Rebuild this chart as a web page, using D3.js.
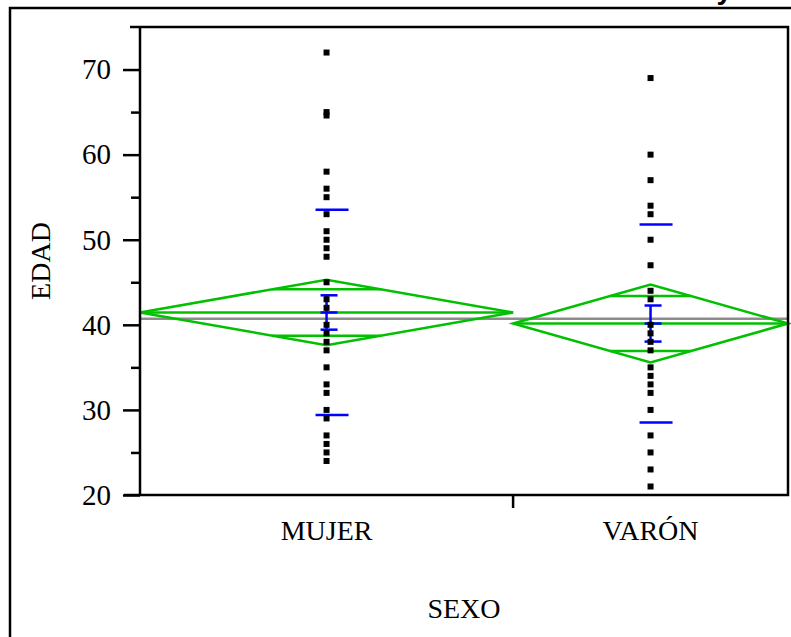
<!DOCTYPE html>
<html lang="es">
<head>
  <meta charset="UTF-8" />
  <title>EDAD por SEXO</title>
  <style>
    body {
      margin: 0;
      background-color: #fff;
    }

    svg {
      display: block;
    }

    .axis text {
      font-family: "Liberation Serif", "Times New Roman", serif;
      font-size: 29px;
      fill: #000;
    }

    .axis path,
    .axis line {
      stroke: #000;
      stroke-width: 2.5px;
    }

    .label {
      font-family: "Liberation Serif", "Times New Roman", serif;
      font-size: 28px;
      fill: #000;
    }
  </style>
</head>
<body>
  <svg width="791" height="637"></svg>

  <script src="https://cdnjs.cloudflare.com/ajax/libs/d3/7.8.5/d3.min.js"></script>
  <script>
    // Valores
    const sexos = ["MUJER", "VARÓN"];
    const sexN = [38, 28];

    const edadMujer = [72, 65, 64.6, 58, 56, 55, 53, 51, 50, 49, 48, 45, 43, 42, 40, 39, 38, 37,
      35, 33, 32, 30, 29, 27, 26, 25, 24];
    const edadVaron = [69, 60, 57, 54, 53, 50, 47, 44, 43, 40, 39, 38, 37, 35, 34, 33, 32, 30,
      27, 25, 23, 21];

    const medias = [41.45, 40.15];
    const ic95 = [3.85, 4.58];      // semiamplitud del diamante de medias
    const desvEst = [12.06, 11.63];
    const errEst = [2.02, 2.12];
    const mediaGlobal = 40.72;

    const yTicks = [20, 30, 40, 50, 60, 70];
    const yMinor = [25, 35, 45, 55, 65];

    const puntos = [edadMujer, edadVaron];

    const svg = d3.select("svg");

    const mLeft = 140, mRight = 788, mTop = 27, mBottom = 495;

    const y = d3.scaleLinear().domain([20, 75]).range([mBottom, mTop]);

    // anchura de cada grupo proporcional a n
    const total = d3.sum(sexN);
    const x = d3.scaleLinear().domain([0, total]).range([mLeft, mRight]);
    const cum = [0];
    sexN.forEach((n, i) => cum.push(cum[i] + n));
    const bands = sexos.map((s, i) => ({
      name: s,
      x0: x(cum[i]),
      x1: x(cum[i + 1]),
      cx: (x(cum[i]) + x(cum[i + 1])) / 2
    }));

    // marco exterior (cortado por la derecha y abajo)
    svg.append("path")
      .attr("d", `M10,${637 + 5} L10,8 L${791 + 5},8`)
      .attr("fill", "none")
      .attr("stroke", "#000")
      .attr("stroke-width", 2.5);

    // resto del título, casi fuera de la imagen
    svg.append("text")
      .attr("x", 732)
      .attr("y", -1)
      .attr("text-anchor", "end")
      .attr("font-family", "Liberation Sans, Arial, sans-serif")
      .attr("font-weight", "bold")
      .attr("font-size", 28)
      .text("By");

    const g = svg.append("g");

    // media global
    g.append("line")
      .attr("x1", mLeft).attr("x2", mRight)
      .attr("y1", y(mediaGlobal)).attr("y2", y(mediaGlobal))
      .attr("stroke", "#8c8c8c")
      .attr("stroke-width", 2.5);

    // diamantes de medias
    const green = "#00c000";
    bands.forEach((b, i) => {
      const m = medias[i], h = ic95[i];
      const half = (b.x1 - b.x0) / 2;
      g.append("path")
        .attr("d", `M${b.x0},${y(m)} L${b.cx},${y(m + h)} L${b.x1},${y(m)} L${b.cx},${y(m - h)} Z`)
        .attr("fill", "none")
        .attr("stroke", green)
        .attr("stroke-width", 2.5);
      g.append("line")
        .attr("x1", b.x0).attr("x2", b.x1)
        .attr("y1", y(m)).attr("y2", y(m))
        .attr("stroke", green)
        .attr("stroke-width", 2.5);
      // marcas de solapamiento
      const ov = h / Math.SQRT2;
      const w = half * (1 - 1 / Math.SQRT2);
      [m + ov, m - ov].forEach(v => {
        g.append("line")
          .attr("x1", b.cx - w).attr("x2", b.cx + w)
          .attr("y1", y(v)).attr("y2", y(v))
          .attr("stroke", green)
          .attr("stroke-width", 2.5);
      });
    });

    // desviación típica y error estándar
    const blue = "#0000ff";
    bands.forEach((b, i) => {
      const m = medias[i];
      [m + desvEst[i], m - desvEst[i]].forEach(v => {
        g.append("line")
          .attr("x1", b.cx - 11).attr("x2", b.cx + 22)
          .attr("y1", y(v)).attr("y2", y(v))
          .attr("stroke", blue)
          .attr("stroke-width", 2.5);
      });
      g.append("line")
        .attr("x1", b.cx).attr("x2", b.cx)
        .attr("y1", y(m + errEst[i])).attr("y2", y(m - errEst[i]))
        .attr("stroke", blue)
        .attr("stroke-width", 2.5);
      [m + errEst[i], m, m - errEst[i]].forEach(v => {
        g.append("line")
          .attr("x1", b.cx - 6).attr("x2", b.cx + 11)
          .attr("y1", y(v)).attr("y2", y(v))
          .attr("stroke", blue)
          .attr("stroke-width", 2.5);
      });
    });

    // puntos
    bands.forEach((b, i) => {
      g.selectAll(null)
        .data(puntos[i])
        .join("rect")
        .attr("x", b.cx - 3)
        .attr("y", d => y(d) - 3)
        .attr("width", 6)
        .attr("height", 6)
        .attr("fill", "#000");
    });

    // marco del gráfico
    svg.append("path")
      .attr("d", `M130,${mTop} L${mRight},${mTop} L${mRight},${mBottom} L124,${mBottom}`)
      .attr("fill", "none")
      .attr("stroke", "#000")
      .attr("stroke-width", 2.5);

    // eje Y
    const yAxis = svg.append("g")
      .attr("class", "axis")
      .attr("transform", `translate(${mLeft},0)`)
      .call(d3.axisLeft(y).tickValues(yTicks).tickSize(17).tickPadding(12).tickSizeOuter(0));
    yAxis.select(".domain").attr("d", `M0,${mTop}V${mBottom}`);

    svg.append("g")
      .attr("class", "axis")
      .attr("transform", `translate(${mLeft},0)`)
      .call(d3.axisLeft(y).tickValues(yMinor).tickSize(9).tickFormat(""))
      .select(".domain").remove();

    // eje X: separador entre grupos y etiquetas
    svg.append("line")
      .attr("x1", bands[0].x1).attr("x2", bands[0].x1)
      .attr("y1", mBottom).attr("y2", mBottom + 13)
      .attr("stroke", "#000")
      .attr("stroke-width", 2.5);

    svg.selectAll(".cat")
      .data(bands)
      .join("text")
      .attr("class", "label cat")
      .attr("x", d => d.cx)
      .attr("y", 540)
      .attr("text-anchor", "middle")
      .text(d => d.name);

    svg.append("text")
      .attr("class", "label")
      .attr("x", (mLeft + mRight) / 2)
      .attr("y", 618)
      .attr("text-anchor", "middle")
      .text("SEXO");

    svg.append("text")
      .attr("class", "label")
      .attr("transform", `translate(50,${(mTop + mBottom) / 2}) rotate(-90)`)
      .attr("text-anchor", "middle")
      .text("EDAD");
  </script>
</body>
</html>
